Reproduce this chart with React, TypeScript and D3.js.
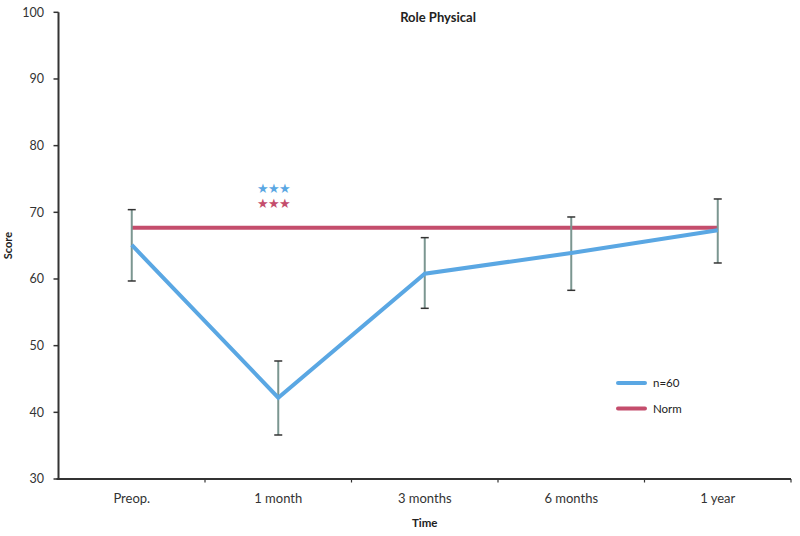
import React from "react";
import * as d3 from "d3";

const categories = ["Preop.", "1 month", "3 months", "6 months", "1 year"];
const meanValues = [65.1, 42.2, 60.8, 63.9, 67.3];
const upperValues = [70.4, 47.7, 66.2, 69.3, 72.0];
const lowerValues = [59.7, 36.6, 55.6, 58.3, 62.4];
const normValue = 67.7;
const yTicks = [30, 40, 50, 60, 70, 80, 90, 100];
const legendLabels = ["n=60", "Norm"];
const seriesColors = ["#5aa7e3", "#c44d6c"];

const W = 800;
const H = 536;

export default function App() {
  const x = d3.scaleBand<string>().domain(categories).range([58.5, 791]);
  const y = d3.scaleLinear().domain([30, 100]).range([479, 12.3]);
  const cx = (c: string) => (x(c) as number) + x.bandwidth() / 2;

  const line = d3
    .line<number>()
    .x((_, i) => cx(categories[i]))
    .y((d) => y(d));

  const font = "Lato, 'Open Sans', sans-serif";
  const boundaries = categories.map((c) => (x(c) as number) + x.bandwidth());

  return (
    <svg
      width={W}
      height={H}
      style={{ position: "absolute", left: 0, top: 0, background: "#fff" }}
      fontFamily={font}
    >
      {/* title */}
      <text x={438} y={22} textAnchor="middle" fontSize={13} fontWeight="bold" fill="#222">
        Role Physical
      </text>

      {/* y axis */}
      <line x1={x.range()[0]} x2={x.range()[0]} y1={y(100)} y2={y(30)} stroke="#333" strokeWidth={2} />
      {yTicks.map((t) => (
        <g key={t}>
          <line x1={x.range()[0] - 5} x2={x.range()[0]} y1={y(t)} y2={y(t)} stroke="#333" strokeWidth={1.5} />
          <text x={44} y={y(t)} dy="0.35em" textAnchor="end" fontSize={12.5} fill="#333">
            {t}
          </text>
        </g>
      ))}
      <text
        transform={`translate(12,${y(65)}) rotate(-90)`}
        textAnchor="middle"
        fontSize={11}
        fontWeight="bold"
        fill="#222"
      >
        Score
      </text>

      {/* x axis */}
      <line x1={x.range()[0] - 2} x2={x.range()[1]} y1={y(30)} y2={y(30)} stroke="#333" strokeWidth={2} />
      {boundaries.map((b, i) => (
        <line key={i} x1={b} x2={b} y1={y(30)} y2={y(30) + 3.5} stroke="#333" strokeWidth={1.2} />
      ))}
      {categories.map((c) => (
        <text key={c} x={cx(c)} y={503} textAnchor="middle" fontSize={13} fill="#333">
          {c}
        </text>
      ))}
      <text x={cx(categories[2])} y={527} textAnchor="middle" fontSize={11.5} fontWeight="bold" fill="#222">
        Time
      </text>

      {/* norm line */}
      <line
        x1={cx(categories[0])}
        x2={cx(categories[categories.length - 1])}
        y1={y(normValue)}
        y2={y(normValue)}
        stroke={seriesColors[1]}
        strokeWidth={4}
      />

      {/* error bars */}
      {categories.map((c, i) => (
        <g key={c}>
          <line x1={cx(c)} x2={cx(c)} y1={y(upperValues[i])} y2={y(lowerValues[i])} stroke="#7b9690" strokeWidth={2} />
          <line x1={cx(c) - 4} x2={cx(c) + 4} y1={y(upperValues[i])} y2={y(upperValues[i])} stroke="#333" strokeWidth={1.5} />
          <line x1={cx(c) - 4} x2={cx(c) + 4} y1={y(lowerValues[i])} y2={y(lowerValues[i])} stroke="#333" strokeWidth={1.5} />
        </g>
      ))}

      {/* mean line */}
      <path d={line(meanValues) || ""} fill="none" stroke={seriesColors[0]} strokeWidth={4} strokeLinejoin="miter" />

      {/* significance stars */}
      <text x={cx(categories[1]) - 5} y={193} textAnchor="middle" fontSize={13} fill={seriesColors[0]} letterSpacing={-1}>
        ★★★
      </text>
      <text x={cx(categories[1]) - 5} y={208} textAnchor="middle" fontSize={13} fill={seriesColors[1]} letterSpacing={-1}>
        ★★★
      </text>

      {/* legend */}
      {legendLabels.map((l, i) => (
        <g key={l} transform={`translate(618,${383 + i * 25.5})`}>
          <line x1={0} x2={27} y1={0} y2={0} stroke={seriesColors[i]} strokeWidth={4} strokeLinecap="round" />
          <text x={35} y={0} dy="0.35em" fontSize={11.5} fill="#222">
            {l}
          </text>
        </g>
      ))}
    </svg>
  );
}
